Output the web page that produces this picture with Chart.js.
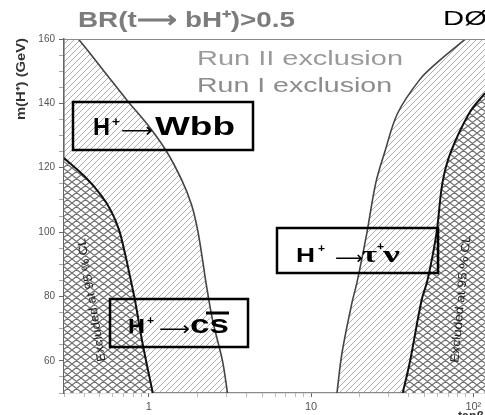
<!DOCTYPE html>
<html>
<head>
<meta charset="utf-8">
<script src="https://cdn.jsdelivr.net/npm/chart.js@4.4.1/dist/chart.umd.min.js"></script>
<style>
html,body{margin:0;padding:0;background:#fff;}
#wrap{width:485px;height:415px;position:relative;overflow:hidden;}
canvas{display:block;}
</style>
</head>
<body>
<div id="wrap"><canvas id="c" width="485" height="415"></canvas></div>
<script>
// Charged Higgs exclusion contours in the (tanβ, m(H+)) plane, BR(t -> bH+) > 0.5

// Run II 95% CL exclusion, low tanβ side
const runIILowTanB = [0.3, 0.367, 0.522, 0.733, 0.986, 1.271, 1.594, 1.835, 1.998, 2.145, 2.237, 2.47, 2.844, 3.053];
const runIILowMass = [164.3, 160, 150.4, 141.0, 133.3, 125.5, 116.2, 108.4, 100.7, 91.3, 85.1, 72.7, 60.0, 50];

// Run I 95% CL exclusion, low tanβ side
const runILowTanB = [0.3, 0.411, 0.507, 0.585, 0.655, 0.712, 0.764, 0.821, 0.919, 1.058];
const runILowMass = [123, 116.8, 111.5, 106.6, 100.7, 93.5, 86.4, 78.9, 64.9, 50];

// Run II 95% CL exclusion, high tanβ side
const runIIHighTanB = [14.44, 15.5, 17.85, 19.15, 22.06, 25.05, 28.45, 34.2, 46.6, 59.3, 88.1, 118];
const runIIHighMass = [50, 62.4, 78.0, 84.2, 99.7, 115.3, 124.9, 137.0, 147.3, 152.5, 159.7, 164.8];

// Run I 95% CL exclusion, high tanβ side
const runIHighTanB = [36.7, 40.5, 48.0, 52.2, 59.3, 64.5, 72.3, 94.5, 118];
const runIHighMass = [50, 59.3, 78.9, 85.1, 99.7, 115.3, 124.6, 137.0, 143.2];

// Axis ticks
const massTicks = [60, 80, 100, 120, 140, 160];
const tanBTicks = [1, 10, 100];
const tanBTickLabels = ['1', '10', '10²'];

const TANB_MIN = 0.3, TANB_MAX = 118;
const MASS_MIN = 50, MASS_MAX = 160;

function toPoints(xs, ys) { return xs.map((x, i) => ({ x: x, y: ys[i] })); }

// Hatch fills
function makePattern(w, h, opts) {
  const c = document.createElement('canvas');
  c.width = w; c.height = h;
  const g = c.getContext('2d');
  if (opts.bg) { g.fillStyle = opts.bg; g.fillRect(0, 0, w, h); }
  g.strokeStyle = opts.color;
  g.lineWidth = opts.lw;
  const offs = [[0,0],[-w,0],[w,0],[0,-h],[0,h]];
  g.beginPath();
  for (const [dx, dy] of offs) {
    g.moveTo(dx, dy + h); g.lineTo(dx + w, dy);                       // "/"
    if (opts.cross) { g.moveTo(dx, dy); g.lineTo(dx + w, dy + h); }   // "\"
  }
  g.stroke();
  return g.createPattern(c, 'repeat');
}
const runIIFill = makePattern(6, 6, { color: 'rgba(120,120,120,0.6)', lw: 1, cross: false, bg: null });
const runIFill = makePattern(9, 7, { color: 'rgba(95,95,95,0.9)', lw: 1.2, cross: true, bg: '#ffffff' });

// Minor ticks
const yTickValues = [];
for (let v = MASS_MIN; v <= MASS_MAX; v += 5) yTickValues.push(v);
const xTickValues = [];
[0.1, 1, 10].forEach(d => { for (let k = 1; k <= 9; k++) { const v = +(d * k).toPrecision(3); if (v >= TANB_MIN && v <= TANB_MAX) xTickValues.push(v); } });
xTickValues.push(100);

function stretchText(ctx, str, x, y, w, font, color) {
  ctx.save();
  ctx.font = font; ctx.fillStyle = color;
  ctx.textBaseline = 'alphabetic'; ctx.textAlign = 'left';
  const m = ctx.measureText(str).width;
  ctx.translate(x, y); ctx.scale(w / m, 1);
  ctx.fillText(str, 0, 0);
  ctx.restore();
}
function rotText(ctx, str, cx, cy, deg, len, font, color) {
  ctx.save();
  ctx.font = font; ctx.fillStyle = color;
  ctx.textBaseline = 'middle'; ctx.textAlign = 'center';
  const m = ctx.measureText(str).width;
  ctx.translate(cx, cy); ctx.rotate(deg * Math.PI / 180); ctx.scale(len / m, 1);
  ctx.fillText(str, 0, 0);
  ctx.restore();
}

const SANS = "'Liberation Sans', Arial, sans-serif";
const SERIF = "'Liberation Serif', 'Times New Roman', serif";
const ARROW = "'DejaVu Sans', sans-serif";

const annotations = {
  id: 'annotations',
  afterDraw(chart) {
    const ctx = chart.ctx;
    const a = chart.chartArea;
    ctx.save();
    // frame top edge
    ctx.strokeStyle = '#8a8a8a'; ctx.lineWidth = 1.2;
    ctx.beginPath(); ctx.moveTo(a.left, a.top + 0.5); ctx.lineTo(a.right, a.top + 0.5); ctx.stroke();

    // headline
    stretchText(ctx, 'BR(t⟶ bH⁺)>0.5', 78, 27, 217, 'bold 22px ' + SANS, '#7c7c7c');
    stretchText(ctx, 'DØ', 443, 25, 44, '21px ' + SANS, '#000');

    // legend lines
    stretchText(ctx, 'Run II exclusion', 197, 65, 206, '21px ' + SANS, '#9a9a9a');
    stretchText(ctx, 'Run I exclusion', 197, 92, 195, '21px ' + SANS, '#8c8c8c');

    // axis title
    rotText(ctx, 'm(H⁺) (GeV)', 22, 79, -90, 82, 'bold 12px ' + SANS, '#333');
    stretchText(ctx, 'tanβ', 458, 420, 26, 'bold 12px ' + SANS, '#333');

    // decay-channel boxes
    ctx.strokeStyle = '#000'; ctx.lineWidth = 2.5;
    ctx.strokeRect(73, 102, 180, 48);
    ctx.strokeRect(110, 299, 138, 48);
    ctx.strokeRect(277, 228, 161, 45);

    // H+ -> Wbb
    stretchText(ctx, 'H', 93, 135, 17, 'bold 24px ' + SANS, '#000');
    stretchText(ctx, '+', 112, 126, 8, 'bold 13px ' + SANS, '#000');
    stretchText(ctx, '⟶', 121, 137, 32, '20px ' + ARROW, '#000');
    stretchText(ctx, 'Wbb', 155, 135, 80, 'bold 25px ' + SANS, '#000');

    // H+ -> c sbar
    stretchText(ctx, 'H', 128, 333, 17, 'bold 21px ' + SANS, '#000');
    stretchText(ctx, '+', 147, 324, 7, 'bold 11px ' + SANS, '#000');
    stretchText(ctx, '⟶', 159, 335, 31, '19px ' + ARROW, '#000');
    stretchText(ctx, 'cs', 190, 333, 39, 'bold 25px ' + SANS, '#000');
    ctx.fillStyle = '#000'; ctx.fillRect(206, 311.5, 23, 3);

    // H+ -> tau nu
    stretchText(ctx, 'H', 296, 262, 19, 'bold 20px ' + SANS, '#000');
    stretchText(ctx, '+', 318, 252, 7, 'bold 11px ' + SANS, '#000');
    stretchText(ctx, '⟶', 335, 264, 28, '18px ' + ARROW, '#000');
    stretchText(ctx, 'τ', 362, 262, 15, 'bold 24px ' + SERIF, '#000');
    stretchText(ctx, '+', 377, 250, 7, 'bold 11px ' + SANS, '#000');
    stretchText(ctx, 'ν', 383, 262, 17, 'bold 24px ' + SERIF, '#000');

    // 95% CL annotations along the Run I contours
    rotText(ctx, 'Excluded at 95 % CL', 92, 300, -99.5, 125, '12px ' + SANS, '#222');
    rotText(ctx, 'Excluded at 95 % CL', 461, 299, -84.5, 128, '12px ' + SANS, '#222');
    ctx.restore();
  }
};

const common = { showLine: true, pointRadius: 0, tension: 0.35, clip: 0 };

new Chart(document.getElementById('c'), {
  type: 'line',
  data: {
    datasets: [
      Object.assign({ label: 'Run I low', data: toPoints(runILowTanB, runILowMass), fill: 'start',
        backgroundColor: runIFill, borderColor: '#111', borderWidth: 2, order: 0 }, common),
      Object.assign({ label: 'Run I high', data: toPoints(runIHighTanB, runIHighMass), fill: 'start',
        backgroundColor: runIFill, borderColor: '#111', borderWidth: 2, order: 0 }, common),
      Object.assign({ label: 'Run II low', data: toPoints(runIILowTanB, runIILowMass), fill: 'start',
        backgroundColor: runIIFill, borderColor: '#444', borderWidth: 1.6, order: 1 }, common),
      Object.assign({ label: 'Run II high', data: toPoints(runIIHighTanB, runIIHighMass), fill: 'start',
        backgroundColor: runIIFill, borderColor: '#444', borderWidth: 1.6, order: 1 }, common)
    ]
  },
  options: {
    responsive: false,
    devicePixelRatio: 1,
    animation: false,
    layout: { padding: { top: 39, left: 0, right: 0, bottom: 0 } },
    plugins: { legend: { display: false }, tooltip: { enabled: false }, title: { display: false } },
    scales: {
      x: {
        type: 'logarithmic', min: TANB_MIN, max: TANB_MAX,
        afterBuildTicks: s => { s.ticks = xTickValues.map(v => ({ value: v, major: tanBTicks.includes(v) })); },
        afterFit: s => { s.height = 22; },
        ticks: {
          autoSkip: false, maxRotation: 0, padding: 3,
          color: '#555', font: { family: SANS, size: 11 },
          callback: v => { const i = tanBTicks.indexOf(v); return i >= 0 ? tanBTickLabels[i] : ''; }
        },
        grid: { drawOnChartArea: false, drawTicks: true, tickLength: 4,
          tickColor: c => (c.tick && c.tick.major) ? '#666' : '#bbb' },
        border: { color: '#8a8a8a', width: 1.2 }
      },
      y: {
        type: 'linear', min: MASS_MIN, max: MASS_MAX,
        afterBuildTicks: s => { s.ticks = yTickValues.map(v => ({ value: v })); },
        afterFit: s => { s.width = 64; },
        ticks: {
          autoSkip: false, padding: 4,
          color: '#555', font: { family: SANS, size: 10 },
          callback: v => massTicks.includes(v) ? String(v) : ''
        },
        grid: { drawOnChartArea: false, drawTicks: true, tickLength: 5,
          tickColor: c => massTicks.includes(c.tick && c.tick.value) ? '#666' : '#aaa' },
        border: { color: '#666', width: 1.6 }
      }
    }
  },
  plugins: [annotations]
});
</script>
</body>
</html>
